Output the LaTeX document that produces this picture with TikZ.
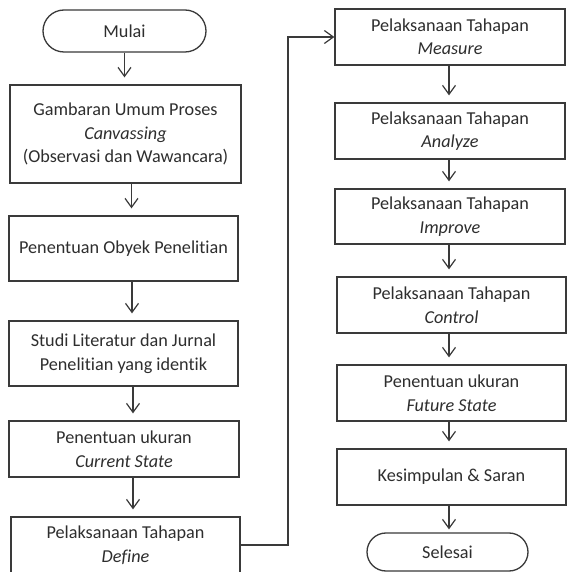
\documentclass[tikz,border=0pt]{standalone}
\usepackage{fontspec}
\setmainfont{Carlito}[Ligatures=NoCommon]
\usetikzlibrary{arrows.meta}
\definecolor{lc}{HTML}{3A3A3A}
\definecolor{tc}{HTML}{2E2E2E}
\begin{document}
\begin{tikzpicture}[x=1pt,y=-1pt,
  box/.style={draw=lc, line width=1.3pt, align=center, inner sep=0pt,
    font=\fontsize{18.2}{23.5}\selectfont, text=tc},
  arr/.style={draw=lc, line width=1.2pt, -{Straight Barb[length=9pt,width=13pt,line width=1.2pt]}},
  dn/.style={arr, shorten >=7pt}
]
\useasboundingbox (0,0) rectangle (579,572);
\fill[white] (0,0) rectangle (579,572);

% left column
\node[box, minimum width=163pt, minimum height=42pt, rounded corners=21pt] (mulai) at (124.5,31) {Mulai};
\node[box, minimum width=231pt, minimum height=98pt] (gamb) at (125.5,134)
  {Gambaran Umum Proses\\\textit{Canvassing}\\(Observasi dan Wawancara)};
\node[box, minimum width=229pt, minimum height=65pt] (obyek) at (123.5,248.5) {Penentuan Obyek Penelitian};
\node[box, minimum width=229pt, minimum height=65pt] (studi) at (123.5,353.5)
  {Studi Literatur dan Jurnal\\Penelitian yang identik};
\node[box, minimum width=230pt, minimum height=56pt] (current) at (124,449)
  {Penentuan ukuran\\\textit{Current State}};
\node[box, minimum width=229pt, minimum height=56pt] (define) at (125.5,545)
  {Pelaksanaan Tahapan\\\textit{Define}};

% right column
\node[box, minimum width=230pt, minimum height=56pt] (measure) at (450,37)
  {Pelaksanaan Tahapan\\\textit{Measure}};
\node[box, minimum width=230pt, minimum height=56pt] (analyze) at (450,131)
  {Pelaksanaan Tahapan\\\textit{Analyze}};
\node[box, minimum width=230pt, minimum height=55pt] (improve) at (450,216.5)
  {Pelaksanaan Tahapan\\\textit{Improve}};
\node[box, minimum width=229pt, minimum height=56pt] (control) at (451.5,305)
  {Pelaksanaan Tahapan\\\textit{Control}};
\node[box, minimum width=229pt, minimum height=56pt] (future) at (451.5,393)
  {Penentuan ukuran\\\textit{Future State}};
\node[box, minimum width=229pt, minimum height=56pt] (kesimpulan) at (451.5,477)
  {Kesimpulan \& Saran};
\node[box, minimum width=161pt, minimum height=38pt, rounded corners=19pt] (selesai) at (447.5,552) {Selesai};

% connectors left
\draw[dn] (mulai.south) -- (mulai.south |- gamb.north);
\draw[dn] ([xshift=6pt]gamb.south) -- ([xshift=6pt]gamb.south |- obyek.north);
\draw[dn] ([xshift=8.5pt]obyek.south) -- ([xshift=8.5pt]obyek.south |- studi.north);
\draw[dn] ([xshift=9.5pt]studi.south) -- ([xshift=9.5pt]studi.south |- current.north);
\draw[dn] ([xshift=9pt]current.south) -- ([xshift=9pt]current.south |- define.north);

% transfer connector
\coordinate (bend) at (288,545);
\draw[arr] (define.east) -- (bend) |- (measure.west);

% connectors right
\draw[dn] ([xshift=-1pt]measure.south) -- ([xshift=-1pt]measure.south |- analyze.north);
\draw[dn] ([xshift=-1pt]analyze.south) -- ([xshift=-1pt]analyze.south |- improve.north);
\draw[dn] ([xshift=-1pt]improve.south) -- ([xshift=-1pt]improve.south |- control.north);
\draw[dn] ([xshift=-2.5pt]control.south) -- ([xshift=-2.5pt]control.south |- future.north);
\draw[dn] ([xshift=-2.5pt]future.south) -- ([xshift=-2.5pt]future.south |- kesimpulan.north);
\draw[arr, shorten >=3pt] ([xshift=-2.5pt]kesimpulan.south) -- ([xshift=-2.5pt]kesimpulan.south |- selesai.north);
\end{tikzpicture}
\end{document}
